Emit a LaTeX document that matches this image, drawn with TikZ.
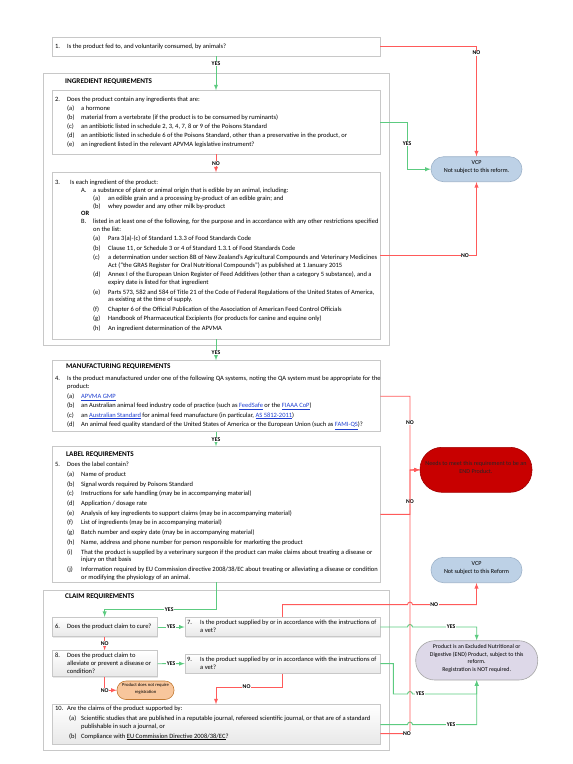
\documentclass[tikz,border=0pt]{standalone}
\usepackage{fontspec}
\setmainfont{Carlito}
\usepackage{xcolor}
\usepackage{tikz}
\usetikzlibrary{arrows}
\usetikzlibrary{calc}
\usetikzlibrary{positioning}
\usetikzlibrary{fit}
\usetikzlibrary{shadows}

\definecolor{boxgray}{HTML}{C8C8C8}
\definecolor{yesgreen}{HTML}{5CCB80}
\definecolor{nored}{HTML}{FF5A5A}
\definecolor{linkblue}{HTML}{1F3FD0}
\definecolor{vcpblue}{HTML}{BDD1E6}
\definecolor{vcpline}{HTML}{9DB2C9}
\definecolor{endred}{HTML}{C80000}
\definecolor{endlilac}{HTML}{DDD8E8}
\definecolor{noregorange}{HTML}{F8C69C}

\newcommand{\tagbox}[2]{\makebox[#1][l]{#2}}
\newcommand{\weblink}[1]{\textcolor{linkblue}{\underline{#1}}}
\newcommand{\itm}[2]{\hspace*{12pt}\tagbox{14pt}{#1}#2}
\newcommand{\subitm}[2]{\hspace*{38pt}\tagbox{15pt}{#1}#2}

\begin{document}
\begin{tikzpicture}[x=1pt, y=-1pt,
    frame/.style={draw=boxgray, line width=0.8pt, inner sep=0pt},
    qbox/.style={frame, fill=white},
    cbox/.style={frame, top color=white, bottom color=black!9,
      drop shadow={opacity=0.18, shadow xshift=0.8pt, shadow yshift=-0.8pt}},
    pill/.style={line width=0.6pt, inner sep=0pt, rounded corners=#1,
      align=center, font=\fontsize{6.1}{7.6}\selectfont},
    txt/.style={anchor=north west, inner sep=0pt, font=\fontsize{6.5}{#1}\selectfont},
    head/.style={anchor=west, inner sep=0pt, font=\fontsize{7.2}{8}\selectfont\bfseries},
    lbl/.style={fill=white, inner sep=0.5pt, font=\fontsize{5.8}{6}\selectfont\bfseries},
    yes/.style={draw=yesgreen, line width=0.9pt, -latex},
    no/.style={draw=nored, line width=0.9pt, -latex}]

  \useasboundingbox (0,0) rectangle (573,764);

  % section frames
  \node [frame, fit={(43,73) (389,345)}] (ingr) {};
  \node [frame, fit={(43,590.7) (389,750)}] (claim) {};
  \node [head] (hingr) at (65,82) {INGREDIENT REQUIREMENTS};
  \node [head] (hclaim) at (65,596.7) {CLAIM REQUIREMENTS};

  % questions
  \node [qbox, fit={(52,37) (380,56)}] (q1) {};
  \node [qbox, fit={(52,90.7) (380,154)}] (q2) {};
  \node [qbox, fit={(52,172.7) (380,339)}] (q3) {};
  \node [qbox, fit={(52,360.7) (380,431.7)}] (q4) {};
  \node [qbox, fit={(52,446.7) (380,582)}] (q5) {};
  \node [cbox, fit={(52,617.3) (157.3,636.7)}] (q6) {};
  \node [cbox, fit={(185,617.3) (380,636.7)}] (q7) {};
  \node [cbox, fit={(52,650.7) (157.3,676.7)}] (q8) {};
  \node [cbox, fit={(185,654) (380,673.3)}] (q9) {};
  \node [cbox, fit={(52,704.7) (380,744.4)}] (q10) {};

  % outcomes
  \node [pill=12.5pt, draw=vcpline, fill=vcpblue, fit={(431,156.7) (522,181.7)}] (vcp1)
    {VCP\\Not subject to this reform.};
  \node [pill=12.5pt, draw=vcpline, fill=vcpblue, fit={(431,557.3) (522,582.7)}] (vcp2)
    {VCP\\Not subject to this Reform};
  \node [pill=22pt, draw=endred!80!black, fill=endred, text=black!85,
    fit={(420,447.3) (532,492.3)}] (endbox)
    {Needs to meet this requirement to be an\\END Product.};
  \node [pill=19pt, draw=black!35, fill=endlilac, font=\fontsize{5.9}{7.5}\selectfont,
    fit={(415.7,640.7) (537.7,680)}] (endp)
    {Product is an Excluded Nutritional or\\Digestive (END) Product, subject to this\\reform.\\Registration is NOT required.};
  \node [pill=9pt, draw=orange!70!black!80, fill=noregorange, font=\fontsize{4.6}{6.6}\selectfont,
    fit={(117,681) (174,699.5)}] (noreg)
    {Product does not require\\registration};

  % question texts
  \node [txt=8, anchor=west] (t1) at (55,46.7)
    {\tagbox{12pt}{1.}Is the product fed to, and voluntarily consumed, by animals?};

  \node [txt=9] (t2) at (55,95.3) {\begin{tabular}{@{}l@{}}
    \tagbox{12pt}{2.}Does the product contain any ingredients that are:\\
    \itm{(a)}{a hormone}\\
    \itm{(b)}{material from a vertebrate (if the product is to be consumed by ruminants)}\\
    \itm{(c)}{an antibiotic listed in schedule 2, 3, 4, 7, 8 or 9 of the Poisons Standard}\\
    \itm{(d)}{an antibiotic listed in schedule 6 of the Poisons Standard, other than a preservative in the product, or}\\
    \itm{(e)}{an ingredient listed in the relevant APVMA legislative instrument?}
  \end{tabular}};

  \node [txt=7.8] (t3) at (55,179.1) {\begin{tabular}{@{}l@{}}
    \tagbox{15pt}{3.}Is each ingredient of the product:\\
    \hspace*{26pt}\tagbox{12pt}{A.}a substance of plant or animal origin that is edible by an animal, including:\\
    \subitm{(a)}{an edible grain and a processing by-product of an edible grain; and}\\
    \subitm{(b)}{whey powder and any other milk by-product}\\
    \hspace*{26pt}\textbf{OR}\\
    \hspace*{26pt}\tagbox{12pt}{B.}listed in at least one of the following, for the purpose and in accordance with any other restrictions specified\\
    \hspace*{38pt}on the list:\\[1.6pt]
    \subitm{(a)}{Para 3(a)-(c) of Standard 1.3.3 of Food Standards Code}\\[1.6pt]
    \subitm{(b)}{Clause 11, or Schedule 3 or 4 of Standard 1.3.1 of Food Standards Code}\\[1.6pt]
    \subitm{(c)}{a determination under section 8B of New Zealand's Agricultural Compounds and Veterinary Medicines}\\
    \hspace*{53pt}Act (``the GRAS Register for Oral Nutritional Compounds'') as published at 1 January 2015\\[1.6pt]
    \subitm{(d)}{Annex I of the European Union Register of Feed Additives (other than a category 5 substance), and a}\\
    \hspace*{53pt}expiry date is listed for that ingredient\\[1.6pt]
    \subitm{(e)}{Parts 573, 582 and 584 of Title 21 of the Code of Federal Regulations of the United States of America,}\\
    \hspace*{53pt}as existing at the time of supply.\\[1.6pt]
    \subitm{(f)}{Chapter 6 of the Official Publication of the Association of American Feed Control Officials}\\[1.6pt]
    \subitm{(g)}{Handbook of Pharmaceutical Excipients (for products for canine and equine only)}\\[1.6pt]
    \subitm{(h)}{An ingredient determination of the APVMA}
  \end{tabular}};

  \node [head] (hmanu) at (66,367) {MANUFACTURING REQUIREMENTS};
  \node [txt=7.8] (t4) at (55,374.8) {\begin{tabular}{@{}l@{}}
    \tagbox{12pt}{4.}Is the product manufactured under one of the following QA systems, noting the QA system must be appropriate for the\\
    \hspace*{12pt}product:\\[2.5pt]
    \itm{(a)}{\weblink{APVMA GMP}}\\[1.5pt]
    \itm{(b)}{an Australian animal feed industry code of practice (such as \weblink{FeedSafe} or the \weblink{FIAAA CoP})}\\[1.5pt]
    \itm{(c)}{an \weblink{Australian Standard} for animal feed manufacture (in particular, \weblink{AS 5812-2011})}\\[1.5pt]
    \itm{(d)}{An animal feed quality standard of the United States of America or the European Union (such as \weblink{FAMI-QS})?}
  \end{tabular}};

  \node [head] (hlabel) at (66,454.3) {LABEL REQUIREMENTS};
  \node [txt=7.8] (t5) at (55,461.1) {\begin{tabular}{@{}l@{}}
    \tagbox{12pt}{5.}Does the label contain?\\[1.9pt]
    \itm{(a)}{Name of product}\\[1.9pt]
    \itm{(b)}{Signal words required by Poisons Standard}\\[1.9pt]
    \itm{(c)}{Instructions for safe handling (may be in accompanying material)}\\[1.9pt]
    \itm{(d)}{Application / dosage rate}\\[1.9pt]
    \itm{(e)}{Analysis of key ingredients to support claims (may be in accompanying material)}\\[1.9pt]
    \itm{(f)}{List of ingredients (may be in accompanying material)}\\[1.9pt]
    \itm{(g)}{Batch number and expiry date (may be in accompanying material)}\\[1.9pt]
    \itm{(h)}{Name, address and phone number for person responsible for marketing the product}\\[1.9pt]
    \itm{(i)}{That the product is supplied by a veterinary surgeon if the product can make claims about treating a disease or}\\
    \hspace*{26pt}injury on that basis\\[1.9pt]
    \itm{(j)}{Information required by EU Commission directive 2008/38/EC about treating or alleviating a disease or condition}\\
    \hspace*{26pt}or modifying the physiology of an animal.
  \end{tabular}};

  \node [txt=8, anchor=west] (t6) at (55,627)
    {\tagbox{12pt}{6.}Does the product claim to cure?};
  \node [txt=8, anchor=west] (t7) at (187,627) {\begin{tabular}{@{}l@{}}
    \tagbox{13pt}{7.}Is the product supplied by or in accordance with the instructions of\\
    \hspace*{13pt}a vet?
  \end{tabular}};
  \node [txt=8, anchor=west] (t8) at (55,663.7) {\begin{tabular}{@{}l@{}}
    \tagbox{12pt}{8.}Does the product claim to\\
    \hspace*{12pt}alleviate or prevent a disease or\\
    \hspace*{12pt}condition?
  \end{tabular}};
  \node [txt=8, anchor=west] (t9) at (187,663.7) {\begin{tabular}{@{}l@{}}
    \tagbox{13pt}{9.}Is the product supplied by or in accordance with the instructions of\\
    \hspace*{13pt}a vet?
  \end{tabular}};
  \node [txt=8] (t10) at (55,705) {\begin{tabular}{@{}l@{}}
    \tagbox{12pt}{10.}Are the claims of the product supported by:\\[1.6pt]
    \hspace*{14pt}\tagbox{12pt}{(a)}Scientific studies that are published in a reputable journal, refereed scientific journal, or that are of a standard\\
    \hspace*{26pt}publishable in such a journal, or\\[1.6pt]
    \hspace*{14pt}\tagbox{12pt}{(b)}Compliance with \underline{EU Commission Directive 2008/38/EC}?
  \end{tabular}};

  \coordinate (bus) at (410,470);

  % top half
  \draw [yes] (q1.south) -- node [lbl, pos=0.2] {YES} (q2.north);
  \draw [no] (q1.east) -| node [lbl, pos=0.53] {NO} (vcp1.north);
  \draw [yes] (q2.east) -- ++(26.7,0) |- node [lbl, pos=0.23] {YES} (vcp1.west);
  \draw [no] (q2.south) -- node [lbl] {NO} (q3.north);
  \draw [no] (q3.east) -| node [lbl, pos=0.44] {NO} (vcp1.south);
  \draw [yes] (q3.south) -- node [lbl, pos=0.63] {YES} (q4.north);
  \draw [no] (q4.east) -| node [lbl, pos=0.68] {NO} (bus) -- (endbox.west);
  \draw [yes] (q4.south) -- node [lbl] {YES} (q5.north);
  \draw [no] (q5.east) -| node [lbl, pos=0.64] {NO} (bus) -- (endbox.west);

  % claims
  \draw [yes] (q5.south) -- ++(0,27.3) -| node [lbl, pos=0.21] {YES} (q6.north);
  \draw [yes] (q6.east) -- node [lbl] {YES} (q7.west);
  \draw [no] (q6.south) -- node [lbl] {NO} (q8.north);
  \draw [yes] (q8.east) -- node [lbl] {YES} (q9.west);
  \draw [no] (q8.south) |- node [lbl, pos=0.5] {NO} (noreg.west);
  \draw [no] (q9.south) -- ++(0,13.4) -| node [lbl, pos=0.27] {NO} (q10.north);
  \draw [no] (q7.north) -- ++(0,-12.3) -- ($(bus |- q7.north)+(-2.5,-12.3)$)
    arc [start angle=180, end angle=360, radius=2.5]
    -| node [lbl, pos=0.17] {NO} (vcp2.south);
  \draw [yes] (q7.east) -- ($(bus |- q7.east)+(-2.5,0)$)
    arc [start angle=180, end angle=360, radius=2.5]
    -| node [lbl, pos=0.3] {YES} (endp.north);
  \draw [yes] (q9.east) -- ++(13,0) |- ($(bus |- 0,694)+(-2.5,0)$)
    arc [start angle=180, end angle=360, radius=2.5]
    -| node [lbl, pos=0.06] {YES} (endp.south);
  \draw [yes] (q10.east) -- ($(bus |- q10.east)+(-2.5,0)$)
    arc [start angle=180, end angle=360, radius=2.5]
    -| node [lbl, pos=0.3] {YES} (endp.south);
  \draw [no] ($(q10.east)+(0,9)$) -| node [lbl, pos=0.45] {NO} (bus) -- (endbox.west);

\end{tikzpicture}
\end{document}
